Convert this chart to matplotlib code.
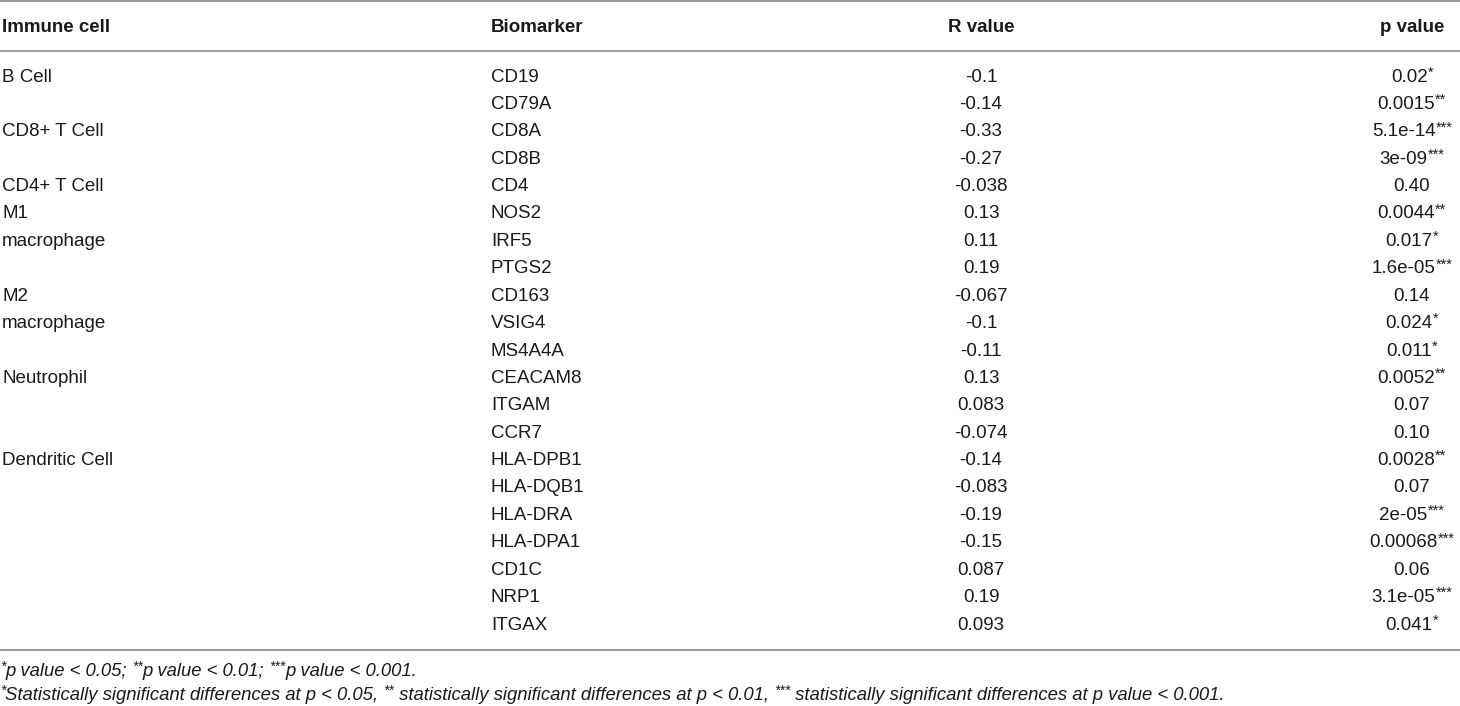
import matplotlib
matplotlib.use("Agg")
import matplotlib.pyplot as plt

plt.rcParams['font.family'] = ['Liberation Sans', 'DejaVu Sans']

headers = ["Immune cell", "Biomarker", "R value", "p value"]
cells = ["B Cell", "", "CD8+ T Cell", "", "CD4+ T Cell", "M1", "macrophage", "",
         "M2", "macrophage", "", "Neutrophil", "", "", "Dendritic Cell",
         "", "", "", "", "", ""]
biomarkers = ["CD19", "CD79A", "CD8A", "CD8B", "CD4", "NOS2", "IRF5", "PTGS2",
              "CD163", "VSIG4", "MS4A4A", "CEACAM8", "ITGAM", "CCR7", "HLA-DPB1",
              "HLA-DQB1", "HLA-DRA", "HLA-DPA1", "CD1C", "NRP1", "ITGAX"]
r_values = ["-0.1", "-0.14", "-0.33", "-0.27", "-0.038", "0.13", "0.11", "0.19",
            "-0.067", "-0.1", "-0.11", "0.13", "0.083", "-0.074", "-0.14",
            "-0.083", "-0.19", "-0.15", "0.087", "0.19", "0.093"]
p_values = ["0.02", "0.0015", "5.1e-14", "3e-09", "0.40", "0.0044", "0.017",
            "1.6e-05", "0.14", "0.024", "0.011", "0.0052", "0.07", "0.10",
            "0.0028", "0.07", "2e-05", "0.00068", "0.06", "3.1e-05", "0.041"]
p_stars = ["*", "**", "***", "***", "", "**", "*", "***", "", "*", "*", "**",
           "", "", "**", "", "***", "***", "", "***", "*"]
# footnotes as (text, superscript?) pieces
footnote1 = [("*", True), ("p value < 0.05; ", False), ("**", True),
             ("p value < 0.01; ", False), ("***", True), ("p value < 0.001.", False)]
footnote2 = [("*", True), ("Statistically significant differences at p < 0.05, ", False),
             ("**", True), (" statistically significant differences at p < 0.01, ", False),
             ("***", True), (" statistically significant differences at p value < 0.001.", False)]

W, H = 1460, 706
fig = plt.figure(figsize=(W / 100, H / 100), dpi=100)
ax = fig.add_axes([0, 0, 1, 1])
ax.set_xlim(0, W)
ax.set_ylim(H, 0)
ax.axis("off")
renderer = fig.canvas.get_renderer()

txt = "#1a1a1a"
line_c = "#9a9a9a"
fs = 13.5
fs_sup = 10.5
sup_dy = -4.5

x_cell, x_bio, x_r, x_p = 2, 491, 981, 1412
y_head = 27
y0, dy = 77, 27.4


def width_px(t):
    bb = t.get_window_extent(renderer=renderer)
    return bb.width


def draw_pieces(x, y, pieces, size, sup_size, **kw):
    for s, sup in pieces:
        t = ax.text(x, y + (sup_dy if sup else 0), s, ha="left", va="center",
                    fontsize=sup_size if sup else size, color=txt, **kw)
        x += width_px(t)
    return x


def measure(pieces, size, sup_size, **kw):
    total = 0
    for s, sup in pieces:
        t = ax.text(0, 0, s, fontsize=sup_size if sup else size, **kw)
        total += width_px(t)
        t.remove()
    return total


for y in (1, 50.5, 650):
    ax.plot([0, W], [y, y], color=line_c, lw=1.4, solid_capstyle="butt")

ax.text(x_cell, y_head, headers[0], ha="left", va="center", fontsize=fs, fontweight="bold", color=txt)
ax.text(x_bio, y_head, headers[1], ha="left", va="center", fontsize=fs, fontweight="bold", color=txt)
ax.text(x_r, y_head, headers[2], ha="center", va="center", fontsize=fs, fontweight="bold", color=txt)
ax.text(x_p, y_head, headers[3], ha="center", va="center", fontsize=fs, fontweight="bold", color=txt)

for i in range(len(biomarkers)):
    y = y0 + i * dy
    if cells[i]:
        ax.text(x_cell, y, cells[i], ha="left", va="center", fontsize=fs, color=txt)
    ax.text(x_bio, y, biomarkers[i], ha="left", va="center", fontsize=fs, color=txt)
    ax.text(x_r, y, r_values[i], ha="center", va="center", fontsize=fs, color=txt)
    pieces = [(p_values[i], False)]
    if p_stars[i]:
        pieces.append((p_stars[i], True))
    w = measure(pieces, fs, fs_sup)
    draw_pieces(x_p - w / 2, y, pieces, fs, fs_sup)

draw_pieces(0, 671, footnote1, 13.3, 10, style="italic")
draw_pieces(0, 695, footnote2, 13.3, 10, style="italic")

fig.savefig("out.png", dpi=100)
